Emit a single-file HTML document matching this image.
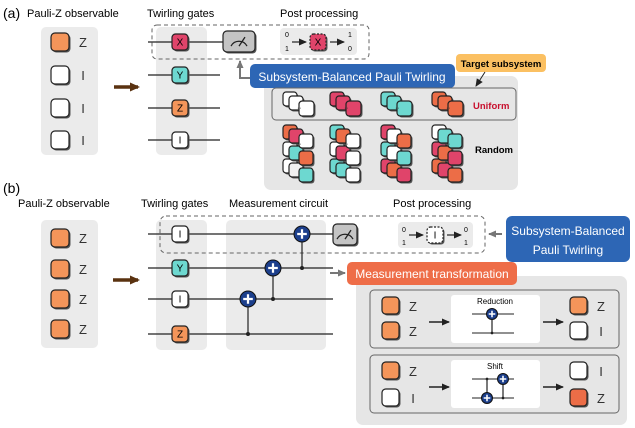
<!DOCTYPE html>
<html><head><meta charset="utf-8"><style>
html,body{margin:0;padding:0;background:#fff;}
svg{display:block;font-family:"Liberation Sans","DejaVu Sans",sans-serif;}
</style></head><body>
<svg id="s" width="635" height="428" viewBox="0 0 635 428" xmlns="http://www.w3.org/2000/svg">
<defs>
<marker id="ak" markerUnits="userSpaceOnUse" markerWidth="8" markerHeight="8" refX="7" refY="4" orient="auto"><path d="M0,0.5 L8,4 L0,7.5 z" fill="#222"/></marker>
<marker id="ag" markerUnits="userSpaceOnUse" markerWidth="8" markerHeight="8" refX="7" refY="4" orient="auto"><path d="M0,0.5 L8,4 L0,7.5 z" fill="#777"/></marker>
<marker id="ab" markerUnits="userSpaceOnUse" markerWidth="10" markerHeight="10" refX="8" refY="5" orient="auto"><path d="M0,0.5 L10,5 L0,9.5 z" fill="#5a3210"/></marker>
</defs>
<!-- (a) -->
<text x="3" y="18" font-size="14">(a)</text>
<text x="27" y="17" font-size="11">Pauli-Z observable</text>
<rect x="41" y="27" width="57" height="128" rx="5" fill="#ebebeb"/>
<text x="147" y="17" font-size="11">Twirling gates</text>
<rect x="156" y="27" width="51" height="128" rx="5" fill="#ebebeb"/>
<text x="280" y="17" font-size="11">Post processing</text>
<g stroke="#222" stroke-width="1.2">
<line x1="148" y1="42" x2="225" y2="42"/><line x1="148" y1="75" x2="220" y2="75"/>
<line x1="148" y1="108" x2="220" y2="108"/><line x1="148" y1="140" x2="220" y2="140"/>
</g>
<rect x="152" y="25" width="217" height="34" rx="5" fill="none" stroke="#666" stroke-dasharray="4,3"/>
<rect x="280" y="28" width="77" height="27" rx="4" fill="#ebebeb"/>
<path d="M253,78 H240 V61" fill="none" stroke="#777" stroke-width="2" marker-end="url(#ag)"/>
<path d="M114,87 H138" stroke="#5a3210" stroke-width="3.5" marker-end="url(#ab)"/>
<rect x="264" y="76" width="254" height="114" rx="7" fill="#e6e6e6"/>
<rect x="250" y="64" width="205" height="24" rx="5" fill="#2d66b5"/>
<text x="352" y="81" font-size="12" fill="#fff" text-anchor="middle">Subsystem-Balanced Pauli Twirling</text>
<rect x="456" y="54" width="90" height="18" rx="4" fill="#fbc062"/>
<text x="501" y="67" font-size="9.5" font-weight="bold" text-anchor="middle">Target subsystem</text>
<line x1="485" y1="72" x2="476" y2="86" stroke="#222" stroke-width="1" marker-end="url(#ak)"/>
<rect x="272" y="88" width="244" height="32" rx="4" fill="none" stroke="#666" stroke-width="1"/>
<text x="473" y="109" font-size="9.5" font-weight="bold" fill="#c8102e">Uniform</text>
<text x="475" y="153" font-size="9.5" font-weight="bold">Random</text>
<!-- (b) -->
<text x="3" y="193" font-size="14">(b)</text>
<text x="18" y="207" font-size="11">Pauli-Z observable</text>
<rect x="41" y="220" width="57" height="128" rx="5" fill="#ebebeb"/>
<text x="141" y="207" font-size="11">Twirling gates</text>
<rect x="156" y="220" width="51" height="130" rx="5" fill="#ebebeb"/>
<text x="229" y="207" font-size="11">Measurement circuit</text>
<rect x="226" y="220" width="100" height="130" rx="5" fill="#ebebeb"/>
<text x="393" y="207" font-size="11">Post processing</text>
<g stroke="#222" stroke-width="1.2">
<line x1="148" y1="234" x2="335" y2="234"/><line x1="148" y1="268" x2="333" y2="268"/>
<line x1="148" y1="299" x2="333" y2="299"/><line x1="148" y1="334" x2="333" y2="334"/>
</g>
<rect x="160" y="216" width="325" height="37" rx="6" fill="none" stroke="#666" stroke-dasharray="4,3"/>
<rect x="398" y="222" width="75" height="26" rx="4" fill="#ebebeb"/>
<path d="M113,280 H138" stroke="#5a3210" stroke-width="3.5" marker-end="url(#ab)"/>
<rect x="506" y="216" width="124" height="46" rx="6" fill="#2d66b5"/>
<text x="568" y="235" font-size="12" fill="#fff" text-anchor="middle">Subsystem-Balanced</text>
<text x="568" y="254" font-size="12" fill="#fff" text-anchor="middle">Pauli Twirling</text>
<line x1="502" y1="234" x2="489" y2="234" stroke="#777" stroke-width="2" marker-end="url(#ag)"/>
<line x1="330" y1="273" x2="345" y2="273" stroke="#777" stroke-width="2" marker-end="url(#ag)"/>
<rect x="356" y="276" width="271" height="149" rx="7" fill="#e6e6e6"/>
<rect x="347" y="262" width="170" height="23" rx="5" fill="#ee6d48"/>
<text x="432" y="278" font-size="12" fill="#fff" text-anchor="middle">Measurement transformation</text>
<rect x="370" y="290" width="249" height="58" rx="4" fill="none" stroke="#666"/>
<rect x="370" y="355" width="249" height="58" rx="4" fill="none" stroke="#666"/>
<rect x="451" y="295" width="89" height="48" rx="3" fill="#fff"/>
<rect x="451" y="360" width="89" height="48" rx="3" fill="#fff"/>
<text x="495" y="304" font-size="8" text-anchor="middle">Reduction</text>
<text x="495" y="369" font-size="8" text-anchor="middle">Shift</text>
<g stroke="#222" stroke-width="1">
<line x1="472" y1="314" x2="514" y2="314"/><line x1="472" y1="333" x2="514" y2="333"/><line x1="492" y1="314" x2="492" y2="333"/>
<line x1="472" y1="379" x2="514" y2="379"/><line x1="472" y1="398" x2="514" y2="398"/>
<line x1="487" y1="379" x2="487" y2="398"/><line x1="503" y1="379" x2="503" y2="398"/>
</g>
<g stroke="#222" stroke-width="1.5" marker-end="url(#ak)">
<line x1="429" y1="322" x2="449" y2="322"/><line x1="543" y1="322" x2="563" y2="322"/>
<line x1="429" y1="387" x2="449" y2="387"/><line x1="543" y1="387" x2="563" y2="387"/>
</g>
<g id="dyn"></g>
</svg>
<script>
const NS="http://www.w3.org/2000/svg",g=document.getElementById("dyn");
function el(t,a,txt){const e=document.createElementNS(NS,t);for(const k in a)e.setAttribute(k,a[k]);if(txt!=null)e.textContent=txt;g.appendChild(e);return e;}
const C={o:"#f4955a",r:"#e0446a",t:"#6dd8d0",d:"#ec6d47",w:"#fff",g:"#f0f0f0",k:"#bdbdbd"};
function box(x,y,s,f,lab,dash,fs){el("rect",{x:x+1.5,y:y+1.5,width:s,height:s,rx:s*0.22,fill:"#555"});
el("rect",{x,y,width:s,height:s,rx:s*0.22,fill:C[f]||f,stroke:"#222","stroke-width":1.2,"stroke-dasharray":dash||"none"});
if(lab)el("text",{x:x+s/2,y:y+s/2+(fs||10)*0.36,"font-size":fs||10,"text-anchor":"middle"},lab);}
function t(x,y,s,fs,extra){const a={x,y,"font-size":fs};Object.assign(a,extra||{});el("text",a,s);}
[["o","Z"],["w","I"],["w","I"],["w","I"]].forEach((v,i)=>{const y=[42,75,108,140][i];box(51,y-9,18,v[0]);t(83,y+5,v[1],13,{"text-anchor":"middle",fill:"#333"});});
[["r","X"],["t","Y"],["o","Z"],["w","I"]].forEach((v,i)=>{const y=[42,75,108,140][i];box(172,y-8,16,v[0],v[1]);});
function meter(x,y,w,h){el("rect",{x:x+1.5,y:y+1.5,width:w,height:h,rx:4,fill:"#555"});el("rect",{x,y,width:w,height:h,rx:4,fill:"#c4c4c4",stroke:"#222","stroke-width":1.2});
const cx=x+w/2,cy=y+h*0.72;el("path",{d:`M${cx-8},${cy} A9,9 0 0 1 ${cx+8},${cy}`,fill:"none",stroke:"#222","stroke-width":1.3});el("line",{x1:cx,y1:cy,x2:cx+6,y2:cy-9,stroke:"#222","stroke-width":1.3});}
meter(223,31,32,21);meter(333,224,24,21);
t(287,37,"0",7,{"text-anchor":"middle"});t(287,51,"1",7,{"text-anchor":"middle"});
el("line",{x1:292,y1:42,x2:306,y2:42,stroke:"#222","stroke-width":1.2,"marker-end":"url(#ak)"});
box(310,34,16,"r","X","2,1.5");
el("line",{x1:330,y1:42,x2:344,y2:42,stroke:"#222","stroke-width":1.2,"marker-end":"url(#ak)"});
t(350,37,"1",7,{"text-anchor":"middle"});t(350,51,"0",7,{"text-anchor":"middle"});
t(404,232,"0",7,{"text-anchor":"middle"});t(404,245,"1",7,{"text-anchor":"middle"});
el("line",{x1:409,y1:235,x2:423,y2:235,stroke:"#222","stroke-width":1.2,"marker-end":"url(#ak)"});
box(427,227,16,"w","I","2,1.5");
el("line",{x1:447,y1:235,x2:461,y2:235,stroke:"#222","stroke-width":1.2,"marker-end":"url(#ak)"});
t(466,232,"0",7,{"text-anchor":"middle"});t(466,245,"1",7,{"text-anchor":"middle"});
[[283,"w"],[330,"r"],[381,"t"],[432,"d"]].forEach(([x,f])=>{box(x,92,14,f);box(x+6,96,14,f);box(x+16,101,15,f);t(x+14,110,"··",7,{fill:"#333"});});
const R=[["dww","rtg","wdt"],["twt","drt","www"],["rtr","wwd","dtr"],["wrd","tdr","trd"]];
[283,330,381,432].forEach((x,i)=>{const s=R[i];for(let c=0;c<3;c++)for(let r=0;r<3;r++){const ox=[0,6,16][c],oy=[0,4,9][c];box(x+ox,125+oy+r*17,14,s[c][r]);}t(x+14,146,"··",7,{fill:"#333"});});
[238,269,299,329].forEach(y=>{box(51,y-9,18,"o");t(83,y+5,"Z",13,{"text-anchor":"middle",fill:"#333"});});
[["w","I",234],["t","Y",268],["w","I",299],["o","Z",334]].forEach(v=>box(172,v[2]-8,16,v[0],v[1]));
function cnot(x,ty,cy,r){el("line",{x1:x,y1:ty,x2:x,y2:cy,stroke:"#222","stroke-width":1.2});el("circle",{cx:x,cy:cy,r:r*0.25,fill:"#222"});
el("circle",{cx:x,cy:ty,r:r,fill:"#1c3f8c",stroke:"#111","stroke-width":1});el("path",{d:`M${x-r*0.6},${ty} H${x+r*0.6} M${x},${ty-r*0.6} V${ty+r*0.6}`,stroke:"#fff","stroke-width":r*0.28});}
cnot(302,234,268,8);cnot(273,268,299,8);cnot(248,299,334,8);
cnot(492,314,333,5.5);cnot(503,379,398,5.5);cnot(487,398,379,5.5);
function obs(x,y,f,l){box(x,y,17,f);t(x+31,y+14,l,13,{"text-anchor":"middle",fill:"#333"});}
obs(382,297,"o","Z");obs(382,322,"o","Z");obs(570,297,"o","Z");obs(570,322,"w","I");
obs(382,362,"o","Z");obs(382,389,"w","I");obs(570,362,"w","I");obs(570,389,"d","Z");
</script>
</body></html>
